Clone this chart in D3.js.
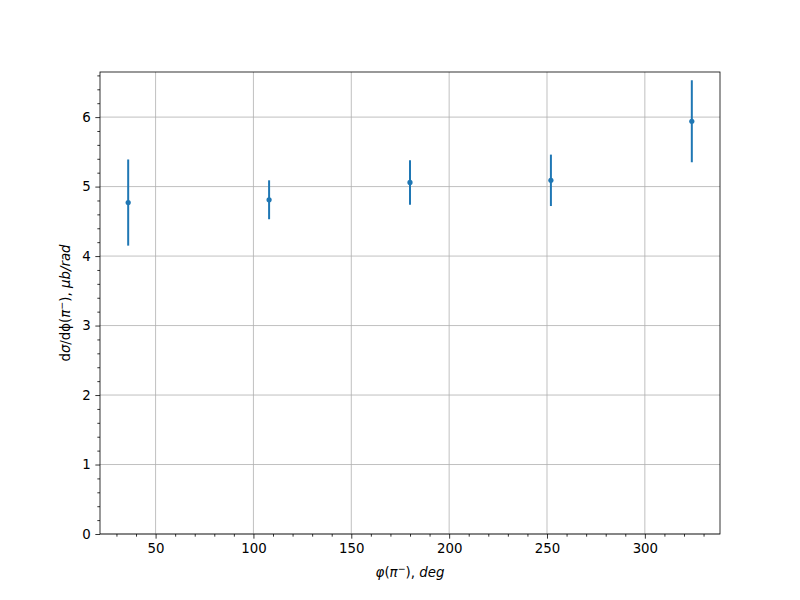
<!DOCTYPE html>
<html><head><meta charset="utf-8">
<script src="https://cdn.jsdelivr.net/npm/d3@7"></script>
<style>body{margin:0;background:#fff}svg{display:block}</style>
</head><body>
<script>
const phi = [36, 108, 180, 252, 324];
const dsig = [4.77, 4.81, 5.06, 5.09, 5.94];
const err = [0.62, 0.28, 0.32, 0.37, 0.59];
const xTicks = [50, 100, 150, 200, 250, 300];
const yTicks = [0, 1, 2, 3, 4, 5, 6];

const W = 800, H = 600;
const m = {l: 100, r: 80, t: 72, b: 66};
const svg = d3.select("body").append("svg").attr("width", W).attr("height", H);

const lo = d3.min(dsig.map((d, i) => d - err[i])), hi = d3.max(dsig.map((d, i) => d + err[i]));
const xr = d3.max(phi) - d3.min(phi);
const x = d3.scaleLinear().domain([d3.min(phi) - 0.05 * xr, d3.max(phi) + 0.05 * xr]).range([m.l, W - m.r]);
const y = d3.scaleLinear().domain([0, hi + 0.05 * (hi - lo)]).range([H - m.b, m.t]);

const font = "DejaVu Sans, sans-serif";
const g = svg.append("g");

// grid
g.selectAll(".gx").data(xTicks).join("line")
  .attr("x1", d => x(d)).attr("x2", d => x(d)).attr("y1", m.t).attr("y2", H - m.b)
  .attr("stroke", "#b0b0b0").attr("stroke-width", 0.8);
g.selectAll(".gy").data(yTicks).join("line")
  .attr("y1", d => y(d)).attr("y2", d => y(d)).attr("x1", m.l).attr("x2", W - m.r)
  .attr("stroke", "#b0b0b0").attr("stroke-width", 0.8);

// axes
const xAxis = d3.axisBottom(x).tickValues(xTicks).tickSize(4.67).tickPadding(4.67).tickFormat(d3.format("d"));
const xMinor = d3.axisBottom(x).tickValues(d3.range(30, 339, 10).filter(v => v % 50 !== 0)).tickSize(2.67).tickFormat("");
const yAxis = d3.axisLeft(y).tickValues(yTicks).tickSize(4.67).tickPadding(4.67).tickFormat(d3.format("d"));
const yMinor = d3.axisLeft(y).tickValues(d3.range(0.2, 6.65, 0.2).filter(v => Math.abs(v - Math.round(v)) > 1e-6)).tickSize(2.67).tickFormat("");

function style(sel) {
  sel.select(".domain").remove();
  sel.selectAll("line").attr("stroke", "#000").attr("stroke-width", 0.8);
  sel.selectAll("text").attr("font-family", font).attr("font-size", 13.33).attr("fill", "#000");
}
svg.append("g").attr("transform", `translate(0,${H - m.b})`).call(xAxis).call(style);
svg.append("g").attr("transform", `translate(0,${H - m.b})`).call(xMinor).call(style);
svg.append("g").attr("transform", `translate(${m.l},0)`).call(yAxis).call(style);
svg.append("g").attr("transform", `translate(${m.l},0)`).call(yMinor).call(style);

// frame
svg.append("rect").attr("x", m.l).attr("y", m.t).attr("width", W - m.l - m.r).attr("height", H - m.t - m.b)
  .attr("fill", "none").attr("stroke", "#000").attr("stroke-width", 0.8);

// error bars
const c = "#1f77b4";
const pts = phi.map((p, i) => ({p, v: dsig[i], e: err[i]}));
svg.selectAll(".eb").data(pts).join("line")
  .attr("x1", d => x(d.p)).attr("x2", d => x(d.p))
  .attr("y1", d => y(d.v - d.e)).attr("y2", d => y(d.v + d.e))
  .attr("stroke", c).attr("stroke-width", 2);
svg.selectAll(".pt").data(pts).join("circle")
  .attr("cx", d => x(d.p)).attr("cy", d => y(d.v)).attr("r", 2.6).attr("fill", c);

// labels
const xl = svg.append("text").attr("x", (m.l + W - m.r) / 2).attr("y", 577)
  .attr("text-anchor", "middle").attr("font-family", font).attr("font-size", 13.33).attr("fill", "#000");
xl.append("tspan").attr("font-style", "italic").text("φ");
xl.append("tspan").text("(");
xl.append("tspan").attr("font-style", "italic").text("π");
xl.append("tspan").attr("font-size", 9.5).attr("dy", -5).text("−");
xl.append("tspan").attr("dy", 5).text("),");
xl.append("tspan").attr("font-style", "italic").text(" deg");

const yl = svg.append("text").attr("transform", `translate(70,${(m.t + H - m.b) / 2}) rotate(-90)`)
  .attr("text-anchor", "middle").attr("font-family", font).attr("font-size", 13.33).attr("fill", "#000");
yl.append("tspan").text("d");
yl.append("tspan").attr("font-style", "italic").text("σ");
yl.append("tspan").text("/dϕ(");
yl.append("tspan").attr("font-style", "italic").text("π");
yl.append("tspan").attr("font-size", 9.5).attr("dy", -5).text("−");
yl.append("tspan").attr("dy", 5).text("),");
yl.append("tspan").attr("font-style", "italic").text(" μb/rad");
</script>
</body></html>
